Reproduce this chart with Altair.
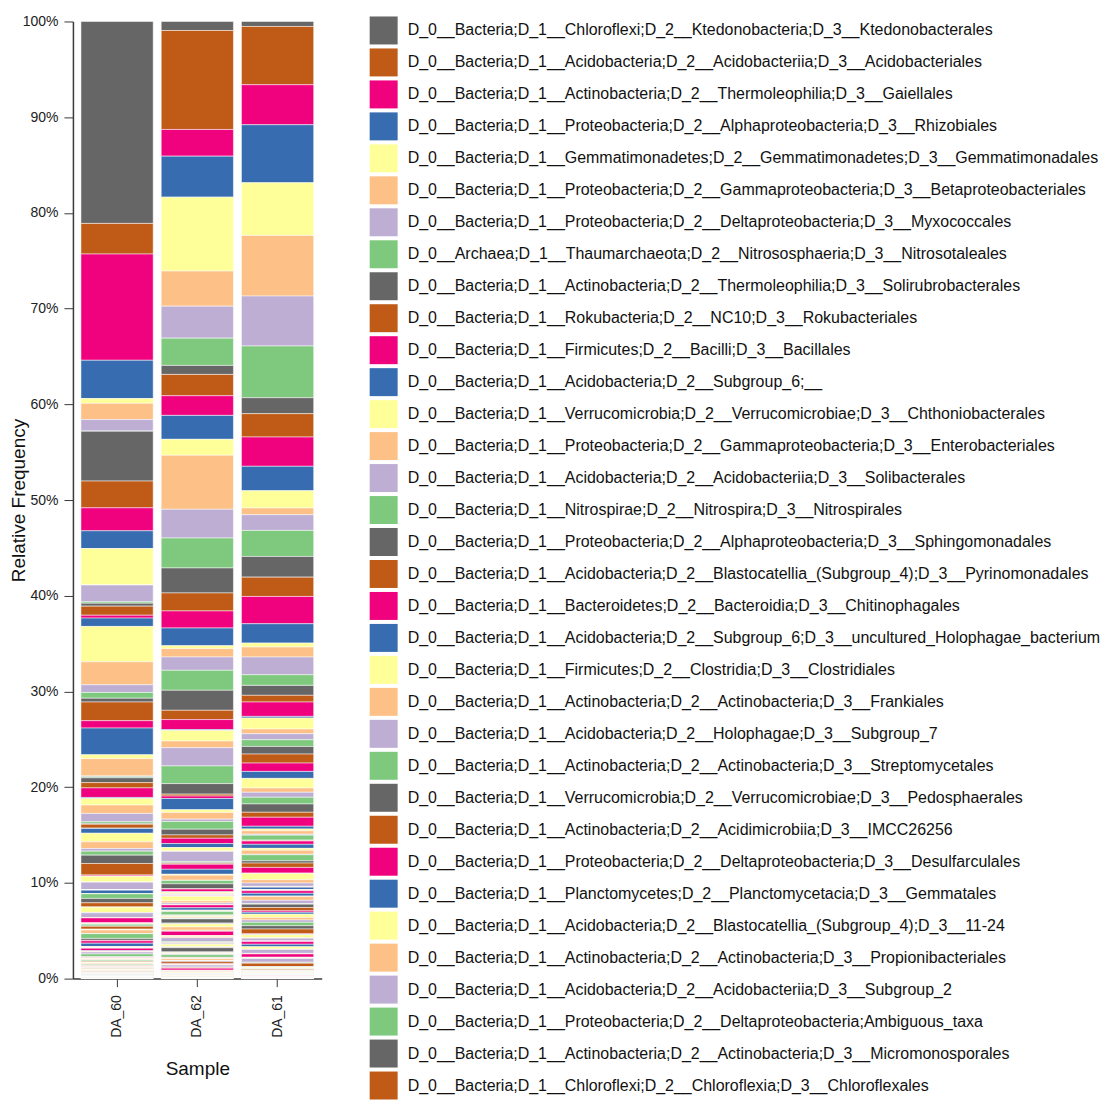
import altair as alt
import pandas as pd

# Samples in display order
samples = ["DA_60", "DA_62", "DA_61"]

# Named taxa (level-4 classification), top of the stack first
taxa_named = [
    "D_0__Bacteria;D_1__Chloroflexi;D_2__Ktedonobacteria;D_3__Ktedonobacterales",
    "D_0__Bacteria;D_1__Acidobacteria;D_2__Acidobacteriia;D_3__Acidobacteriales",
    "D_0__Bacteria;D_1__Actinobacteria;D_2__Thermoleophilia;D_3__Gaiellales",
    "D_0__Bacteria;D_1__Proteobacteria;D_2__Alphaproteobacteria;D_3__Rhizobiales",
    "D_0__Bacteria;D_1__Gemmatimonadetes;D_2__Gemmatimonadetes;D_3__Gemmatimonadales",
    "D_0__Bacteria;D_1__Proteobacteria;D_2__Gammaproteobacteria;D_3__Betaproteobacteriales",
    "D_0__Bacteria;D_1__Proteobacteria;D_2__Deltaproteobacteria;D_3__Myxococcales",
    "D_0__Archaea;D_1__Thaumarchaeota;D_2__Nitrososphaeria;D_3__Nitrosotaleales",
    "D_0__Bacteria;D_1__Actinobacteria;D_2__Thermoleophilia;D_3__Solirubrobacterales",
    "D_0__Bacteria;D_1__Rokubacteria;D_2__NC10;D_3__Rokubacteriales",
    "D_0__Bacteria;D_1__Firmicutes;D_2__Bacilli;D_3__Bacillales",
    "D_0__Bacteria;D_1__Acidobacteria;D_2__Subgroup_6;__",
    "D_0__Bacteria;D_1__Verrucomicrobia;D_2__Verrucomicrobiae;D_3__Chthoniobacterales",
    "D_0__Bacteria;D_1__Proteobacteria;D_2__Gammaproteobacteria;D_3__Enterobacteriales",
    "D_0__Bacteria;D_1__Acidobacteria;D_2__Acidobacteriia;D_3__Solibacterales",
    "D_0__Bacteria;D_1__Nitrospirae;D_2__Nitrospira;D_3__Nitrospirales",
    "D_0__Bacteria;D_1__Proteobacteria;D_2__Alphaproteobacteria;D_3__Sphingomonadales",
    "D_0__Bacteria;D_1__Acidobacteria;D_2__Blastocatellia_(Subgroup_4);D_3__Pyrinomonadales",
    "D_0__Bacteria;D_1__Bacteroidetes;D_2__Bacteroidia;D_3__Chitinophagales",
    "D_0__Bacteria;D_1__Acidobacteria;D_2__Subgroup_6;D_3__uncultured_Holophagae_bacterium",
    "D_0__Bacteria;D_1__Firmicutes;D_2__Clostridia;D_3__Clostridiales",
    "D_0__Bacteria;D_1__Actinobacteria;D_2__Actinobacteria;D_3__Frankiales",
    "D_0__Bacteria;D_1__Acidobacteria;D_2__Holophagae;D_3__Subgroup_7",
    "D_0__Bacteria;D_1__Actinobacteria;D_2__Actinobacteria;D_3__Streptomycetales",
    "D_0__Bacteria;D_1__Verrucomicrobia;D_2__Verrucomicrobiae;D_3__Pedosphaerales",
    "D_0__Bacteria;D_1__Actinobacteria;D_2__Acidimicrobiia;D_3__IMCC26256",
    "D_0__Bacteria;D_1__Proteobacteria;D_2__Deltaproteobacteria;D_3__Desulfarculales",
    "D_0__Bacteria;D_1__Planctomycetes;D_2__Planctomycetacia;D_3__Gemmatales",
    "D_0__Bacteria;D_1__Acidobacteria;D_2__Blastocatellia_(Subgroup_4);D_3__11-24",
    "D_0__Bacteria;D_1__Actinobacteria;D_2__Actinobacteria;D_3__Propionibacteriales",
    "D_0__Bacteria;D_1__Acidobacteria;D_2__Acidobacteriia;D_3__Subgroup_2",
    "D_0__Bacteria;D_1__Proteobacteria;D_2__Deltaproteobacteria;Ambiguous_taxa",
    "D_0__Bacteria;D_1__Actinobacteria;D_2__Actinobacteria;D_3__Micromonosporales",
    "D_0__Bacteria;D_1__Chloroflexi;D_2__Chloroflexia;D_3__Chloroflexales",
]

# Relative abundance (%) of the named taxa, per sample
da60_named = [21.1, 3.2, 11.1, 4.0, 0.5, 1.7, 1.2, 0.02, 5.2, 2.8, 2.4, 1.85,
              3.8, 0.02, 1.75, 0.15, 0.3, 0.95, 0.3, 0.87, 3.7, 2.4, 0.8, 0.6,
              0.4, 1.95, 0.77, 2.8, 0.4, 1.8, 0.1, 0.1, 0.5, 0.55]
da62_named = [0.94, 10.34, 2.79, 4.28, 7.73, 3.66, 3.34, 2.85, 0.94, 2.23, 2.05, 2.5,
              1.67, 5.64, 3.0, 3.13, 2.61, 1.88, 1.78, 1.85, 0.31, 0.87, 1.39, 2.09,
              2.09, 0.97, 1.04, 0.1, 1.1, 0.7, 1.9, 1.85, 1.1, 0.2]
da61_named = [0.52, 6.09, 4.18, 6.06, 5.5, 6.34, 5.22, 5.4, 1.67, 2.44, 3.06, 2.55,
              1.81, 0.7, 1.64, 2.72, 2.16, 2.02, 2.85, 2.02, 0.42, 1.04, 1.85, 1.11,
              1.04, 0.7, 1.5, 0.17, 1.15, 0.49, 0.63, 0.7, 0.8, 0.94]

# Remaining low-abundance taxa (35-170), per sample
da60_rest = [
    1.0, 0.1, 0.7, 0.87, 0.87, 0.17, 0.1, 0.4,
    0.03, 0.5, 0.9, 0.7, 0.27, 0.42, 0.87, 1.2,
    0.12, 0.01, 0.6, 0.02, 0.8, 0.01, 0.01, 0.01,
    0.01, 0.35, 0.01, 0.01, 0.01, 0.48, 0.46, 0.45,
    0.01, 0.01, 0.55, 0.03, 0.5, 0.01, 0.01, 0.01,
    0.52, 0.02, 0.02, 0.08, 0.02, 0.2, 0.02, 0.3,
    0.02, 0.02, 0.05, 0.35, 0.02, 0.5, 0.2, 0.05,
    0.25, 0.35, 0.05, 0.05, 0.02, 0.02, 0.02, 0.02,
    0.27, 0.02, 0.05, 0.05, 0.2, 0.3, 0.02, 0.05,
    0.06, 0.01, 0.08, 0.1, 0.02, 0.12, 0.01, 0.08,
    0.04, 0.01, 0.06, 0.08, 0.04, 0.1, 0.02, 0.05,
    0.08, 0.02, 0.05, 0.04, 0.06, 0.03, 0.01, 0.06,
    0.03, 0.01, 0.08, 0.05, 0.03, 0.06, 0.01, 0.04,
    0.05, 0.01, 0.04, 0.04, 0.03, 0.02, 0.01, 0.03,
    0.04, 0.01, 0.03, 0.02, 0.04, 0.03, 0.01, 0.02,
    0.02, 0.01, 0.03, 0.02, 0.02, 0.02, 0.01, 0.01,
    0.02, 0.01, 0.01, 0.02, 0.01, 0.01, 0.01, 0.01,
]
da62_rest = [
    0.25, 1.18, 0.28, 0.7, 0.25, 0.8, 0.6, 0.35,
    0.55, 0.42, 0.35, 0.05, 1.05, 0.1, 0.1, 0.1,
    0.52, 0.52, 0.1, 0.52, 0.03, 0.35, 0.52, 0.03,
    0.28, 0.03, 0.12, 0.08, 0.08, 0.03, 0.03, 0.03,
    0.03, 0.03, 0.5, 0.2, 0.15, 0.02, 0.02, 0.02,
    0.3, 0.25, 0.05, 0.05, 0.05, 0.35, 0.05, 0.05,
    0.02, 0.02, 0.1, 0.1, 0.05, 0.02, 0.45, 0.02,
    0.05, 0.02, 0.3, 0.35, 0.02, 0.02, 0.02, 0.05,
    0.45, 0.02, 0.1, 0.1, 0.4, 0.1, 0.02, 0.05,
    0.05, 0.05, 0.25, 0.05, 0.05, 0.02, 0.45, 0.02,
    0.04, 0.02, 0.08, 0.04, 0.08, 0.28, 0.02, 0.04,
    0.04, 0.01, 0.04, 0.18, 0.04, 0.01, 0.08, 0.22,
    0.04, 0.01, 0.04, 0.04, 0.22, 0.01, 0.01, 0.08,
    0.22, 0.01, 0.04, 0.04, 0.04, 0.01, 0.01, 0.04,
    0.04, 0.01, 0.08, 0.04, 0.02, 0.08, 0.01, 0.02,
    0.02, 0.01, 0.06, 0.02, 0.02, 0.06, 0.01, 0.02,
    0.02, 0.01, 0.04, 0.02, 0.02, 0.03, 0.01, 0.01,
]
da61_rest = [
    0.87, 0.73, 1.0, 0.45, 0.52, 0.7, 0.87, 0.52,
    0.94, 0.28, 0.2, 0.35, 0.1, 0.52, 0.05, 0.05,
    0.34, 0.42, 0.2, 0.42, 0.05, 0.63, 0.24, 0.45,
    0.6, 0.03, 0.65, 0.35, 0.35, 0.02, 0.02, 0.02,
    0.03, 0.25, 0.02, 0.02, 0.02, 0.02, 0.02, 0.02,
    0.27, 0.28, 0.05, 0.4, 0.35, 0.05, 0.35, 0.35,
    0.15, 0.2, 0.35, 0.25, 0.25, 0.35, 0.35, 0.5,
    0.05, 0.05, 0.3, 0.05, 0.3, 0.02, 0.02, 0.02,
    0.28, 0.25, 0.25, 0.05, 0.4, 0.02, 0.02, 0.02,
    0.35, 0.02, 0.05, 0.05, 0.4, 0.05, 0.05, 0.35,
    0.03, 0.01, 0.1, 0.05, 0.05, 0.02, 0.02, 0.08,
    0.06, 0.01, 0.05, 0.03, 0.04, 0.02, 0.01, 0.04,
    0.03, 0.01, 0.04, 0.02, 0.03, 0.02, 0.01, 0.03,
    0.03, 0.01, 0.03, 0.02, 0.03, 0.01, 0.01, 0.02,
    0.02, 0.01, 0.02, 0.02, 0.02, 0.01, 0.01, 0.01,
    0.02, 0.01, 0.01, 0.01, 0.01, 0.01, 0.01, 0.01,
    0.01, 0.01, 0.01, 0.01, 0.01, 0.01, 0.01, 0.01,
]

# Repeating 8-colour palette (Accent, reversed)
palette = ["#666666", "#bf5b17", "#f0027f", "#386cb0",
           "#ffff99", "#fdc086", "#beaed4", "#7fc97f"]

abundance = {
    "DA_60": da60_named + da60_rest,
    "DA_62": da62_named + da62_rest,
    "DA_61": da61_named + da61_rest,
}
n_taxa = len(abundance["DA_60"])
taxa = taxa_named + [f"Taxon {i}" for i in range(len(taxa_named) + 1, n_taxa + 1)]
colors = [palette[i % len(palette)] for i in range(n_taxa)]

rows = []
for s in samples:
    for i, (t, v) in enumerate(zip(taxa, abundance[s])):
        rows.append({"Sample": s, "Taxon": t, "idx": i, "value": v})
df = pd.DataFrame(rows)

FONT = "Liberation Sans"
AXIS_GREY = "#3a3a3a"

chart = (
    alt.Chart(df)
    .mark_bar(stroke="white", strokeWidth=0.5)
    .encode(
        x=alt.X(
            "Sample:N",
            sort=samples,
            scale=alt.Scale(paddingInner=0.1, paddingOuter=0.1),
            axis=alt.Axis(
                title="Sample",
                labelAngle=-90,
                labelFont=FONT,
                labelFontSize=14,
                labelColor="#222",
                labelPadding=8,
                tickSize=8,
                tickColor=AXIS_GREY,
                domainColor=AXIS_GREY,
                domainWidth=1.5,
                titleFont=FONT,
                titleFontSize=19,
                titleFontWeight="normal",
                titleColor="#111",
                titleBaseline="alphabetic",
                titleY=96,
            ),
        ),
        y=alt.Y(
            "value:Q",
            stack="normalize",
            scale=alt.Scale(domain=[0, 1]),
            axis=alt.Axis(
                title="Relative Frequency",
                format=".0%",
                values=[0, 0.1, 0.2, 0.3, 0.4, 0.5, 0.6, 0.7, 0.8, 0.9, 1.0],
                grid=False,
                labelFont=FONT,
                labelFontSize=14,
                labelColor="#222",
                labelPadding=6,
                tickSize=9,
                tickColor=AXIS_GREY,
                domainColor=AXIS_GREY,
                domainWidth=1.5,
                titleFont=FONT,
                titleFontSize=19,
                titleFontWeight="normal",
                titleColor="#111",
                titleAngle=-90,
                titleBaseline="alphabetic",
                titleAlign="center",
                titleX=-48,
                titleY=479,
            ),
        ),
        color=alt.Color(
            "Taxon:N",
            scale=alt.Scale(domain=taxa, range=colors),
            legend=alt.Legend(
                title=None,
                values=taxa_named,
                symbolLimit=40,
                orient="none",
                legendX=297,
                legendY=-5,
                padding=0,
                symbolType="square",
                symbolSize=784,
                symbolStrokeWidth=0,
                symbolOpacity=1,
                labelFont=FONT,
                labelFontSize=16,
                labelColor="#111",
                labelLimit=1000,
                labelOffset=10,
                rowPadding=4,
            ),
        ),
        order=alt.Order("idx:Q", sort="descending"),
    )
    .properties(
        width=249,
        height=958,
        autosize=alt.AutoSizeParams(type="none"),
        padding={"left": 73, "top": 21, "right": 787, "bottom": 122},
        background="white",
    )
    .configure_view(strokeWidth=0)
)

chart.save("out.html", embed_options={"renderer": "svg", "actions": False})
